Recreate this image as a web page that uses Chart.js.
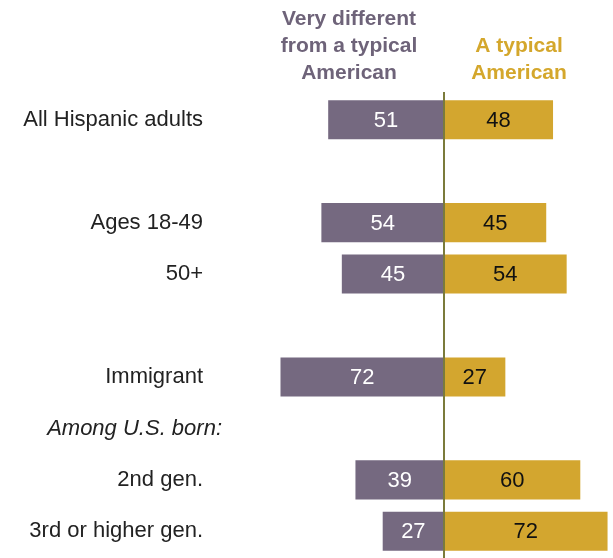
<!DOCTYPE html>
<html>
<head>
<meta charset="utf-8">
<script src="https://cdn.jsdelivr.net/npm/chart.js@4"></script>
<style>
  html, body { margin: 0; padding: 0; background: #fff; }
  #wrap { width: 613px; height: 558px; }
</style>
</head>
<body>
<div id="wrap"><canvas id="chart"></canvas></div>
<script>
// categories (empty strings are spacer rows)
const categories = ['All Hispanic adults', '', 'Ages 18-49', '50+', '', 'Immigrant', 'Among U.S. born:', '2nd gen.', '3rd or higher gen.'];
const veryDifferent = [51, null, 54, 45, null, 72, null, 39, 27];
const typicalAmerican = [48, null, 45, 54, null, 27, null, 60, 72];
const seriesNames = [['Very different', 'from a typical', 'American'], ['A typical', 'American']];
const subheadIndex = 6; // italic sub-heading row, sits a bit further right

const PURPLE = '#756980';
const GOLD = '#d3a62f';
const FONT = '"Liberation Sans", Arial, sans-serif';

// values drawn inside the bars, plus the zero line
const barLabels = {
  id: 'barLabels',
  afterDatasetsDraw(chart) {
    const ctx = chart.ctx;
    ctx.save();
    ctx.font = '22px ' + FONT;
    ctx.textAlign = 'center';
    ctx.textBaseline = 'middle';
    chart.data.datasets.forEach((ds, i) => {
      const meta = chart.getDatasetMeta(i);
      meta.data.forEach((bar, j) => {
        const v = ds.raw[j];
        if (v == null) return;
        ctx.fillStyle = i === 0 ? '#fff' : '#111';
        ctx.fillText(v, (bar.x + bar.base) / 2, bar.y + 1);
      });
    });
    const x0 = Math.round(chart.scales.x.getPixelForValue(0));
    ctx.strokeStyle = '#7b7b3b';
    ctx.lineWidth = 2;
    ctx.beginPath();
    ctx.moveTo(x0, chart.chartArea.top - 2);
    ctx.lineTo(x0, chart.height);
    ctx.stroke();

    // italic sub-heading
    const y = chart.scales.y.getPixelForValue(subheadIndex);
    ctx.font = 'italic 22px ' + FONT;
    ctx.textAlign = 'right';
    ctx.fillStyle = '#222';
    ctx.fillText(categories[subheadIndex], 222, y);
    ctx.restore();
  }
};

// column headers
const headers = {
  id: 'headers',
  afterDraw(chart) {
    const ctx = chart.ctx;
    ctx.save();
    ctx.font = 'bold 21px ' + FONT;
    ctx.textAlign = 'center';
    ctx.textBaseline = 'middle';
    ctx.fillStyle = '#6e6379';
    seriesNames[0].forEach((t, k) => ctx.fillText(t, 349, 19 + k * 27));
    ctx.fillStyle = '#d4a72c';
    seriesNames[1].forEach((t, k) => ctx.fillText(t, 519, 46 + k * 27));
    ctx.restore();
  }
};

new Chart(document.getElementById('chart'), {
  type: 'bar',
  data: {
    labels: categories,
    datasets: [
      {
        label: seriesNames[0].join(' '),
        raw: veryDifferent,
        data: veryDifferent.map(v => v == null ? null : -v),
        backgroundColor: PURPLE,
        barPercentage: 0.76,
        categoryPercentage: 1
      },
      {
        label: seriesNames[1].join(' '),
        raw: typicalAmerican,
        data: typicalAmerican,
        backgroundColor: GOLD,
        barPercentage: 0.76,
        categoryPercentage: 1
      }
    ]
  },
  options: {
    indexAxis: 'y',
    responsive: true,
    maintainAspectRatio: false,
    animation: false,
    layout: { padding: { top: 94, bottom: 1, left: 0, right: 0 } },
    plugins: {
      legend: { display: false },
      tooltip: { enabled: false }
    },
    scales: {
      x: {
        stacked: true,
        min: -102.6,
        max: 74.4,
        display: false
      },
      y: {
        stacked: true,
        grid: { display: false, drawTicks: false },
        border: { display: false },
        afterFit(scale) {
          scale.width = 211;
          scale.paddingTop = 0;
          scale.paddingBottom = 0;
        },
        ticks: {
          color: '#222',
          padding: 8,
          callback: (v, i) => i === subheadIndex ? '' : categories[i],
          font: { family: FONT, size: 22 }
        }
      }
    }
  },
  plugins: [barLabels, headers]
});
</script>
</body>
</html>
